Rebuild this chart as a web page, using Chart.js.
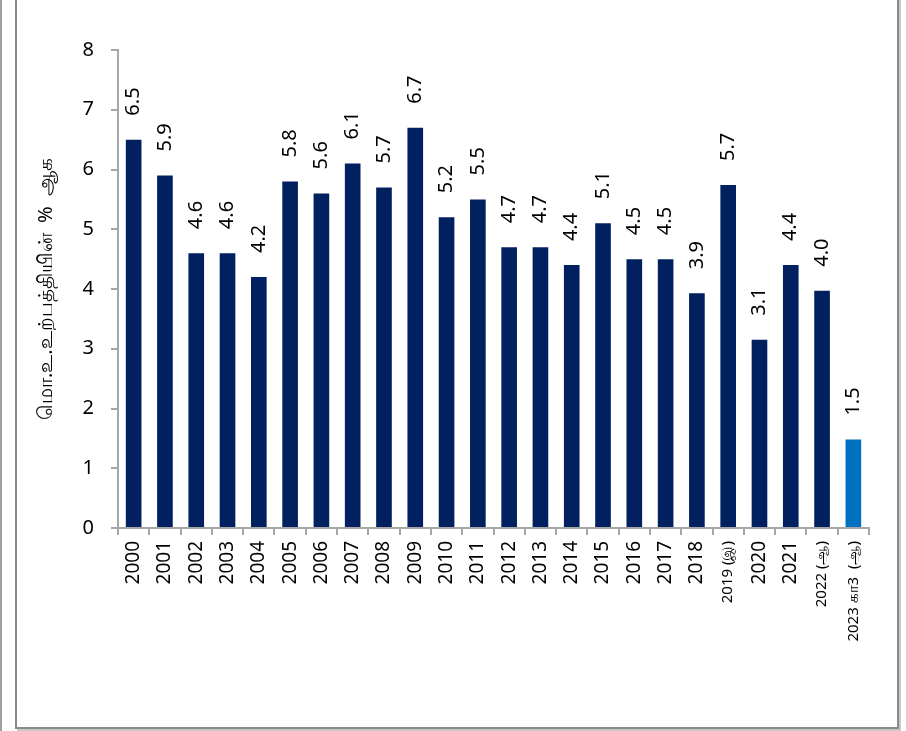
<!DOCTYPE html>
<html>
<head>
<meta charset="utf-8">
<script src="https://cdn.jsdelivr.net/npm/chart.js@4/dist/chart.umd.min.js"></script>
<style>
  html, body { margin: 0; padding: 0; background: #fff; }
  #wrap { position: relative; width: 906px; height: 731px; overflow: hidden; }
  #edge { position: absolute; left: 0; top: 0; width: 2px; height: 731px; background: #a0a0a0; }
  #frame { position: absolute; left: 15px; top: -3px; width: 880px; height: 728px;
           border: 2px solid #8a8a8a; box-shadow: 2px 2px 0 #c8c8c8; }
  canvas { position: absolute; left: 0; top: 0; }
</style>
</head>
<body>
<div id="wrap">
  <div id="edge"></div>
  <div id="frame"></div>
  <canvas id="chart" width="906" height="731"></canvas>
</div>
<script>
"use strict";

// ஆண்டுகள் (x அச்சு)
const years = [
  "2000", "2001", "2002", "2003", "2004", "2005", "2006", "2007", "2008", "2009",
  "2010", "2011", "2012", "2013", "2014", "2015", "2016", "2017", "2018",
  "2019 (இ)", "2020", "2021", "2022 (ஆ)", "2023 கா3  (ஆ)"
];

// பட்டை உயரங்கள்
const growth = [
  6.5, 5.9, 4.6, 4.6, 4.2, 5.8, 5.6, 6.1, 5.7, 6.7,
  5.2, 5.5, 4.7, 4.7, 4.4, 5.1, 4.5, 4.5, 3.93,
  5.74, 3.15, 4.4, 3.97, 1.48
];

// பட்டைகளின் மேல் எழுதப்படும் மதிப்புகள்
const valueLabels = [
  "6.5", "5.9", "4.6", "4.6", "4.2", "5.8", "5.6", "6.1", "5.7", "6.7",
  "5.2", "5.5", "4.7", "4.7", "4.4", "5.1", "4.5", "4.5", "3.9",
  "5.7", "3.1", "4.4", "4.0", "1.5"
];

const yTicks = [0, 1, 2, 3, 4, 5, 6, 7, 8];
const yTitle = "மொ.உ.உற்பத்தியின்  %  ஆக";

const FONT = "'Noto Sans', 'Open Sans', sans-serif";
const smallLabels = [19, 22, 23];

/**
 * Draws the rotated value above each bar.
 */
const barValues = {
  id: "barValues",
  afterDatasetsDraw(chart) {
    const ctx = chart.ctx;
    const bars = chart.getDatasetMeta(0).data;
    ctx.save();
    ctx.fillStyle = "#000";
    ctx.font = "20px " + FONT;
    ctx.textAlign = "left";
    ctx.textBaseline = "middle";
    bars.forEach((bar, i) => {
      ctx.save();
      ctx.translate(bar.x, bar.y - 24);
      ctx.rotate(-Math.PI / 2);
      ctx.fillText(valueLabels[i], 0, 0);
      ctx.restore();
    });
    ctx.restore();
  }
};

new Chart(document.getElementById("chart"), {
  type: "bar",
  data: {
    labels: years,
    datasets: [{
      data: growth,
      backgroundColor: years.map((y, i) => i === years.length - 1 ? "#0070C0" : "#002060"),
      barPercentage: 0.5,
      categoryPercentage: 1
    }]
  },
  options: {
    responsive: false,
    animation: false,
    layout: { padding: { top: 50, right: 37, left: 0, bottom: 0 } },
    plugins: {
      legend: { display: false },
      tooltip: { enabled: false }
    },
    scales: {
      x: {
        afterFit: s => { s.height = 203; },
        border: { color: "#a6a6a6", width: 2 },
        grid: { drawOnChartArea: false, color: "#a6a6a6", lineWidth: 2, tickLength: 7, offset: true },
        ticks: {
          autoSkip: false,
          minRotation: 90,
          maxRotation: 90,
          padding: 6,
          color: "#000",
          font: c => ({ family: FONT, size: smallLabels.includes(c.index) ? 15 : 19 })
        }
      },
      y: {
        min: 0,
        max: 8,
        afterFit: s => { s.width = 118; },
        afterBuildTicks: s => { s.ticks = yTicks.map(v => ({ value: v })); },
        border: { color: "#a6a6a6", width: 2 },
        grid: { drawOnChartArea: false, color: "#a6a6a6", lineWidth: 2, tickLength: 7 },
        ticks: {
          padding: 17,
          color: "#000",
          font: { family: FONT, size: 20 }
        },
        title: {
          display: true,
          text: yTitle,
          color: "#000",
          font: { family: FONT, size: 20 },
          padding: { top: 34, bottom: 0 }
        }
      }
    }
  },
  plugins: [barValues]
});
</script>
</body>
</html>
